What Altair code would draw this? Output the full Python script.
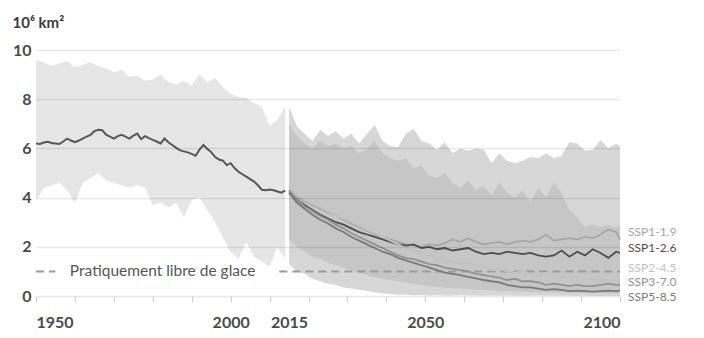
import altair as alt
import pandas as pd

# ---------------- data ----------------
hist_years = list(range(1950, 2015))
hist_mean = [6.20, 6.18, 6.24, 6.27, 6.22, 6.20, 6.18, 6.28, 6.40, 6.32,
             6.25, 6.32, 6.40, 6.48, 6.55, 6.70, 6.76, 6.74, 6.56, 6.48,
             6.40, 6.50, 6.55, 6.48, 6.40, 6.52, 6.60, 6.38, 6.50, 6.42,
             6.35, 6.28, 6.20, 6.40, 6.25, 6.14, 6.02, 5.92, 5.88, 5.84,
             5.78, 5.70, 5.95, 6.14, 5.98, 5.85, 5.65, 5.55, 5.50, 5.32,
             5.40, 5.20, 5.05, 4.95, 4.85, 4.75, 4.65, 4.50, 4.32, 4.30,
             4.33, 4.30, 4.25, 4.20, 4.28]

hist_band_years = list(range(1950, 2015, 2))
hist_upper = [9.6, 9.5, 9.35, 9.45, 9.55, 9.3, 9.4, 9.5, 9.35, 9.25,
              9.1, 9.2, 8.9, 8.95, 8.75, 8.8, 9.0, 8.7, 8.6, 8.75,
              8.55, 9.0, 8.7, 8.85, 8.5, 8.2, 8.1, 8.05, 7.85, 7.7,
              6.9, 7.15, 7.7]
hist_lower = [3.9, 4.4, 4.5, 4.6, 4.3, 3.8, 4.6, 4.8, 5.0, 4.7,
              4.6, 4.5, 4.4, 4.5, 4.4, 3.7, 3.8, 3.6, 3.8, 3.2,
              3.9, 4.0, 3.5, 3.0, 2.4, 1.8, 1.5, 2.2, 1.6, 1.4,
              1.2, 2.0, 1.5]

fut_years = list(range(2015, 2100, 2)) + [2100]
fut_outer_upper = [7.7, 6.9, 6.6, 6.3, 6.75, 6.5, 6.7, 6.4, 6.6, 6.2,
                   6.6, 6.95, 6.3, 6.1, 6.05, 6.6, 6.8, 6.3, 6.2, 5.95,
                   6.25, 5.8, 6.0, 5.9, 6.0, 5.95, 5.4, 5.8, 5.5, 5.4,
                   5.5, 5.65, 5.6, 5.8, 5.6, 5.7, 6.25, 6.2, 5.9, 5.95,
                   6.34, 6.0, 6.2, 6.1]
fut_outer_lower = [1.3, 1.0, 0.9, 0.7, 0.6, 0.5, 0.45, 0.35, 0.3, 0.25,
                   0.2, 0.15, 0.1, 0.08, 0.05, 0.05, 0.03, 0.04, 0.02, 0.03,
                   0.02, 0.02, 0.03, 0.02, 0.02, 0.01, 0.02, 0.01, 0.02, 0.01,
                   0.01, 0.01, 0.02, 0.01, 0.01, 0.01, 0.01, 0.0, 0.01, 0.0,
                   0.0, 0.0, 0.0, 0.0]
fut_inner_upper = [7.0, 6.5, 6.2, 6.0, 6.3, 6.1, 6.2, 6.0, 6.1, 5.8,
                   6.0, 6.3, 5.8, 5.6, 5.5, 5.6, 5.2, 5.3, 4.9, 4.8,
                   5.0, 4.6, 4.4, 4.7, 4.3, 4.5, 4.1, 4.6, 4.2, 4.0,
                   4.3, 3.8, 4.4, 4.0, 4.6, 4.2, 3.5, 3.2, 2.8, 2.9,
                   2.8, 2.9, 2.8, 2.9]
fut_inner_lower = [2.3, 2.0, 1.8, 1.6, 1.5, 1.35, 1.25, 1.15, 1.05, 0.95,
                   0.85, 0.75, 0.7, 0.65, 0.6, 0.55, 0.5, 0.45, 0.4, 0.38,
                   0.35, 0.32, 0.3, 0.28, 0.25, 0.25, 0.22, 0.2, 0.2, 0.18,
                   0.18, 0.16, 0.15, 0.15, 0.14, 0.14, 0.13, 0.12, 0.12, 0.12,
                   0.11, 0.1, 0.1, 0.1]

scenarios = ["SSP1-1.9", "SSP1-2.6", "SSP2-4.5", "SSP3-7.0", "SSP5-8.5"]
ssp119 = [4.3, 4.0, 3.85, 3.7, 3.55, 3.4, 3.3, 3.1, 2.95, 2.8,
          2.65, 2.5, 2.4, 2.3, 2.2, 2.1, 2.05, 2.0, 2.1, 2.05,
          2.15, 2.3, 2.2, 2.35, 2.2, 2.1, 2.15, 2.2, 2.1, 2.2,
          2.25, 2.2, 2.3, 2.5, 2.25, 2.3, 2.35, 2.3, 2.4, 2.35,
          2.5, 2.7, 2.6, 2.3]
ssp126 = [4.2, 3.9, 3.7, 3.5, 3.3, 3.15, 3.0, 2.9, 2.75, 2.6,
          2.5, 2.4, 2.3, 2.2, 2.1, 2.05, 2.1, 1.95, 2.0, 1.9,
          1.95, 1.85, 1.9, 1.95, 1.8, 1.7, 1.75, 1.7, 1.8, 1.75,
          1.7, 1.75, 1.65, 1.6, 1.65, 1.85, 1.6, 1.8, 1.65, 1.9,
          1.75, 1.55, 1.8, 1.75]
ssp245 = [4.4, 4.1, 3.9, 3.75, 3.6, 3.45, 3.3, 3.15, 3.0, 2.85,
          2.7, 2.55, 2.4, 2.25, 2.1, 1.95, 1.85, 1.75, 1.65, 1.55,
          1.45, 1.4, 1.3, 1.35, 1.2, 1.15, 1.05, 1.1, 1.0, 0.95,
          1.0, 0.9, 0.85, 0.95, 0.85, 0.8, 0.75, 0.8, 0.7, 0.7,
          0.65, 0.6, 0.65, 0.6]
ssp370 = [4.3, 3.9, 3.65, 3.45, 3.25, 3.1, 2.9, 2.75, 2.55, 2.4,
          2.25, 2.1, 1.95, 1.8, 1.65, 1.55, 1.5, 1.4, 1.3, 1.25,
          1.15, 1.1, 1.05, 1.0, 0.9, 0.85, 0.8, 0.75, 0.65, 0.7,
          0.6, 0.6, 0.55, 0.45, 0.5, 0.45, 0.4, 0.45, 0.4, 0.4,
          0.45, 0.5, 0.45, 0.45]
ssp585 = [4.2, 3.8, 3.55, 3.3, 3.1, 2.95, 2.75, 2.6, 2.4, 2.25,
          2.1, 1.95, 1.8, 1.7, 1.55, 1.45, 1.35, 1.25, 1.15, 1.05,
          0.95, 0.9, 0.85, 0.78, 0.72, 0.65, 0.6, 0.55, 0.45, 0.4,
          0.35, 0.35, 0.3, 0.25, 0.28, 0.25, 0.2, 0.22, 0.2, 0.18,
          0.2, 0.22, 0.2, 0.22]
label_values = [2.6, 1.95, 1.15, 0.56, -0.04]

ice_free_level = 1.0
ice_free_text = "Pratiquement libre de glace"
ice_free_segments_start = [1950, 2012.5]
ice_free_segments_end = [1955, 2100]
ice_free_text_year = 1958.7

x_tick_years = list(range(1950, 2101, 10)) + [2015]
x_label_years = [1950, 2000, 2015, 2050, 2100]
y_ticks = [0, 2, 4, 6, 8, 10]

# ---------------- tables ----------------
hist_df = pd.DataFrame({"year": hist_years, "value": hist_mean})
hist_band_df = pd.DataFrame({"year": hist_band_years, "upper": hist_upper, "lower": hist_lower})
fut_band_df = pd.DataFrame({"year": fut_years, "u1": fut_outer_upper, "l1": fut_outer_lower,
                            "u2": fut_inner_upper, "l2": fut_inner_lower})
series = [ssp119, ssp126, ssp245, ssp370, ssp585]
ssp_rows = []
for name, vals in zip(scenarios, series):
    for yr, v in zip(fut_years, vals):
        ssp_rows.append({"year": yr, "scenario": name, "value": v})
ssp_df = pd.DataFrame(ssp_rows)
labels_df = pd.DataFrame({"scenario": scenarios, "year": [2100] * 5, "value": label_values})
seg_df = pd.DataFrame({"x1": ice_free_segments_start, "x2": ice_free_segments_end,
                       "y": [ice_free_level] * 2})
ann_df = pd.DataFrame({"year": [ice_free_text_year], "value": [ice_free_level], "t": [ice_free_text]})

# ---------------- scales / axes ----------------
FONT = "Lato"
xscale = alt.Scale(domain=[1950, 2100], nice=False, zero=False)
yscale = alt.Scale(domain=[0, 10], nice=False)
label_set = "[" + ",".join(str(v) for v in x_label_years) + "]"
x_axis = alt.Axis(values=x_tick_years, format="d", grid=False, domain=False,
                  tickSize=6, tickColor="#cfcfcf", tickWidth=1.2,
                  tickOpacity={"condition": {"test": "datum.value == 2015", "value": 0}, "value": 1},
                  labelExpr="indexof(" + label_set + ", datum.value) >= 0 ? datum.label : ''",
                  labelFont=FONT, labelFontSize=16, labelFontWeight="bold", labelColor="#4a4a4a",
                  labelPadding=12, labelOverlap=False, title=None, zindex=1)
y_axis = alt.Axis(values=y_ticks, domain=False, ticks=False, grid=True,
                  gridColor="#000000", gridOpacity=0.09, gridWidth=1.5,
                  labelFont=FONT, labelFontSize=16, labelFontWeight="bold", labelColor="#4a4a4a",
                  labelPadding=5, title="10⁶ km²", titleAngle=0, titleAlign="left",
                  titleBaseline="alphabetic", titleX=-24, titleY=-23, titleFont=FONT,
                  titleFontSize=15, titleFontWeight="bold", titleColor="#3a3a3a", zindex=1)

X = lambda f: alt.X(f, scale=xscale, axis=x_axis, title=None)
Y = lambda f: alt.Y(f, scale=yscale, axis=y_axis, title="10⁶ km²")

hist_band = alt.Chart(hist_band_df).mark_area(color="#e6e6e6", opacity=1).encode(
    x=X("year:Q"), y=Y("upper:Q"), y2="lower:Q")
fut_outer = alt.Chart(fut_band_df).mark_area(color="#d7d7d7", opacity=1).encode(
    x=X("year:Q"), y=Y("u1:Q"), y2="l1:Q")
fut_inner = alt.Chart(fut_band_df).mark_area(color="#c6c6c6", opacity=1).encode(
    x=X("year:Q"), y=Y("u2:Q"), y2="l2:Q")
dashed = alt.Chart(seg_df).mark_rule(color="#9a9a9a", strokeWidth=2, strokeDash=[8, 5]).encode(
    x=X("x1:Q"), x2="x2:Q", y=Y("y:Q"))
ann = alt.Chart(ann_df).mark_text(align="left", baseline="middle", font=FONT, fontSize=15.5,
                                  color="#555555").encode(x=X("year:Q"), y=Y("value:Q"), text="t:N")
hist_line = alt.Chart(hist_df).mark_line(color="#575757", strokeWidth=2).encode(
    x=X("year:Q"), y=Y("value:Q"))
color_scale = alt.Scale(domain=scenarios,
                        range=["#a6a6a6", "#4d4d4d", "#c2c2c2", "#929292", "#7a7a7a"])
ssp_lines = alt.Chart(ssp_df).mark_line(strokeWidth=1.8).encode(
    x=X("year:Q"), y=Y("value:Q"),
    color=alt.Color("scenario:N", scale=color_scale, legend=None),
    order=alt.Order("year:Q"))
ssp_labels = alt.Chart(labels_df).mark_text(align="left", baseline="middle", dx=8, font=FONT,
                                            fontSize=12).encode(
    x=X("year:Q"), y=Y("value:Q"), text="scenario:N",
    color=alt.Color("scenario:N", scale=color_scale, legend=None))

chart = alt.layer(hist_band, fut_outer, fut_inner, dashed, ann, hist_line, ssp_lines, ssp_labels).properties(
    width=584, height=246,
    autosize=alt.AutoSizeParams(type="none"),
    padding={"left": 36, "top": 50, "right": 84, "bottom": 42},
    background="white",
).configure_view(stroke=None)

chart.save("out.html", embed_options={"renderer": "svg", "actions": False})
